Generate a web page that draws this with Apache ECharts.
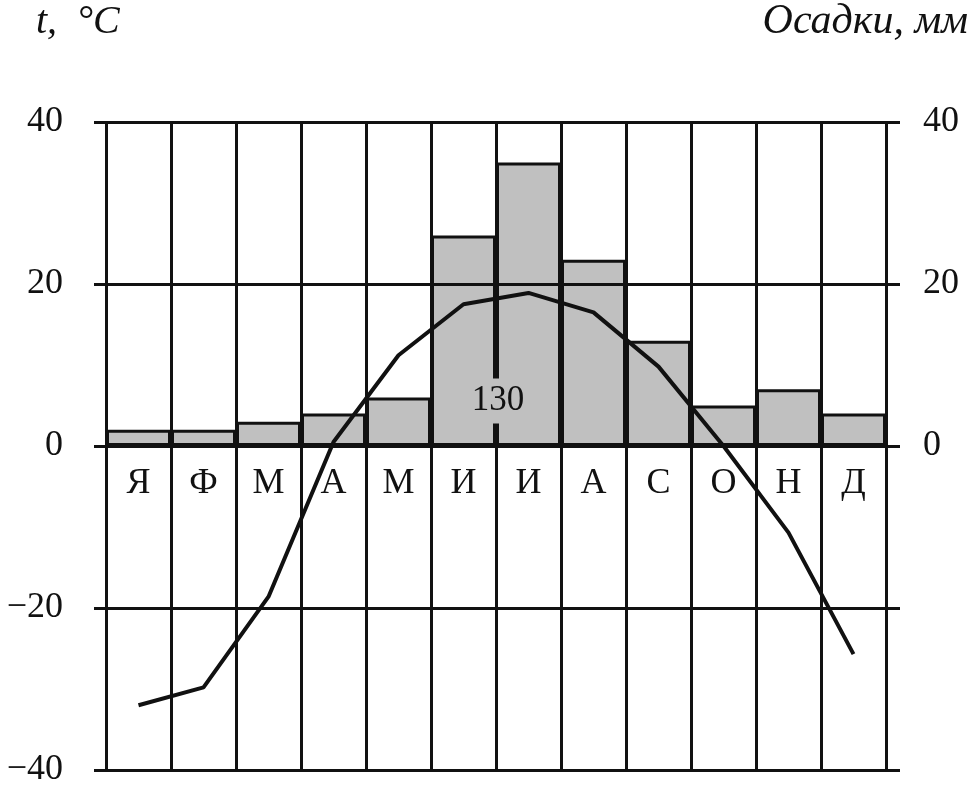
<!DOCTYPE html>
<html>
<head>
<meta charset="utf-8">
<script src="https://cdn.jsdelivr.net/npm/echarts@6/dist/echarts.min.js"></script>
<style>
  html, body { margin: 0; padding: 0; background: #fff; }
  #chart { width: 978px; height: 789px; }
</style>
</head>
<body>
<div id="chart"></div>
<script>
const months = ['Я', 'Ф', 'М', 'А', 'М', 'И', 'И', 'А', 'С', 'О', 'Н', 'Д'];
// monthly precipitation, mm (right axis)
const precip = [2, 2, 3, 4, 6, 26, 35, 23, 13, 5, 7, 4];
// monthly mean temperature, °C (left axis)
const temps = [-32, -29.8, -18.6, 0.5, 11.2, 17.5, 18.9, 16.5, 9.8, 0, -10.7, -25.7];
const totalLabel = '130';
const yTicks = [-40, -20, 0, 20, 40];

const FONT = 'Liberation Serif';

const chart = echarts.init(document.getElementById('chart'));

const option = {
  animation: false,
  grid: { left: 106, right: 92, top: 122, bottom: 19 },
  xAxis: {
    type: 'category',
    data: months,
    position: 'top',
    z: 3,
    axisLine: { show: false },
    axisTick: { show: false },
    splitLine: { show: true, lineStyle: { color: '#111', width: 3 } },
    // month names sit just below the zero line, inside the plot
    axisLabel: {
      margin: -380,
      color: '#111',
      fontFamily: FONT,
      fontSize: 36
    }
  },
  yAxis: [
    {
      type: 'value',
      min: yTicks[0],
      max: yTicks[yTicks.length - 1],
      interval: 20,
      z: 3,
      axisLine: { show: false },
      axisTick: { show: true, length: 12, lineStyle: { color: '#111', width: 3 } },
      splitLine: { show: true, lineStyle: { color: '#111', width: 3 } },
      axisLabel: {
        margin: 43,
        color: '#111',
        fontFamily: FONT,
        fontSize: 36,
        formatter: v => (v < 0 ? '\u2212' + Math.abs(v) : String(v))
      }
    },
    {
      type: 'value',
      min: yTicks[0],
      max: yTicks[yTicks.length - 1],
      interval: 20,
      z: 3,
      axisLine: { show: false },
      axisTick: { show: true, length: 14, lineStyle: { color: '#111', width: 3 } },
      splitLine: { show: false },
      axisLabel: {
        margin: 37,
        color: '#111',
        fontFamily: FONT,
        fontSize: 36,
        formatter: v => (v < 0 ? '' : String(v))
      }
    }
  ],
  series: [
    {
      name: 'Осадки',
      type: 'bar',
      yAxisIndex: 1,
      data: precip,
      barWidth: '100%',
      z: 1,
      itemStyle: { color: '#c0c0c0', borderColor: '#111', borderWidth: 3 }
    },
    {
      name: 't',
      type: 'line',
      yAxisIndex: 0,
      data: temps,
      z: 5,
      symbol: 'none',
      lineStyle: { color: '#111', width: 4 }
    }
  ],
  graphic: [
    {
      type: 'text',
      left: 36, top: 2,
      style: { text: 't,  °C', font: 'italic 40px "Liberation Serif"', fill: '#111' }
    },
    {
      type: 'text',
      right: 10, top: 1,
      style: { text: 'Осадки, мм', font: 'italic 42px "Liberation Serif"', fill: '#111' }
    },
    {
      type: 'text',
      x: 498, y: 401, z: 10,
      style: {
        text: totalLabel,
        font: '35px "Liberation Serif"',
        fill: '#111',
        align: 'center',
        verticalAlign: 'middle',
        backgroundColor: '#c0c0c0',
        padding: [2, 2, 8, 2]
      }
    }
  ]
};

chart.setOption(option);
</script>
</body>
</html>
